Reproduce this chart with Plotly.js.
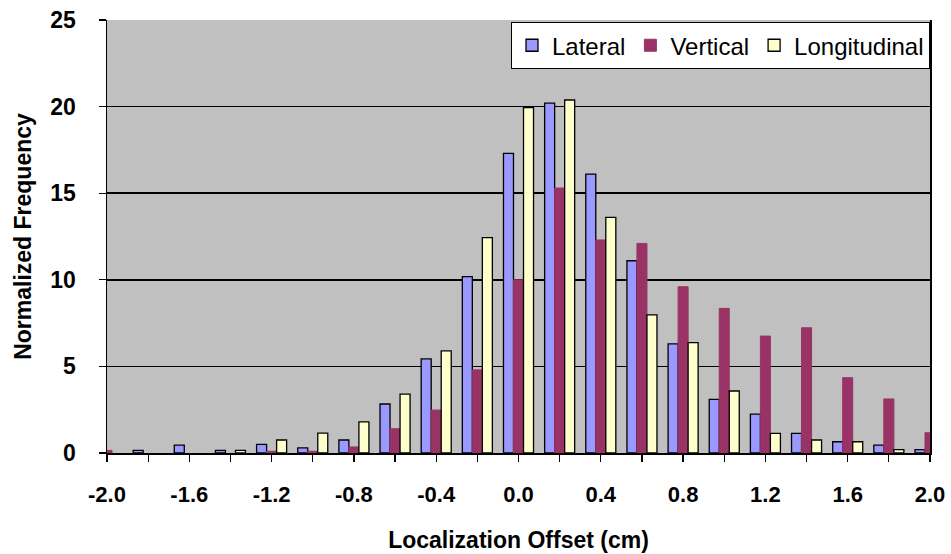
<!DOCTYPE html>
<html>
<head>
<meta charset="utf-8">
<script src="https://cdn.plot.ly/plotly-3.0.1.min.js"></script>
<style>html,body{margin:0;padding:0;background:#fff;}#chart{width:951px;height:554px;}</style>
</head>
<body>
<div id="chart"></div>
<script>
var offsets = [-2.0,-1.8,-1.6,-1.4,-1.2,-1.0,-0.8,-0.6,-0.4,-0.2,0.0,0.2,0.4,0.6,0.8,1.0,1.2,1.4,1.6,1.8,2.0];
var lateral = [null, 0.15, 0.45, 0.15, 0.5, 0.3, 0.75, 2.83, 5.43, 10.18, 17.3, 20.2, 16.1, 11.1, 6.3, 3.1, 2.25, 1.13, 0.65, 0.46, 0.2];
var vertical = [0.15, null, null, null, 0.1, 0.1, 0.35, 1.4, 2.48, 4.8, 10.0, 15.3, 12.3, 12.1, 9.6, 8.35, 6.75, 7.23, 4.35, 3.12, 1.17];
var longitudinal = [null, null, null, 0.15, 0.75, 1.15, 1.8, 3.4, 5.9, 12.43, 19.94, 20.38, 13.6, 7.97, 6.37, 3.58, 1.13, 0.75, 0.65, 0.2, null];
var tickText = ["-2.0","","-1.6","","-1.2","","-0.8","","-0.4","","0.0","","0.4","","0.8","","1.2","","1.6","","2.0"];

var traces = [
  {type:'bar', name:'Lateral', x:offsets, y:lateral, marker:{color:'#9999FF', line:{color:'#000000', width:1.3}}},
  {type:'bar', name:'Vertical', x:offsets, y:vertical, marker:{color:'#993366', line:{color:'#993366', width:1}}},
  {type:'bar', name:'Longitudinal', x:offsets, y:longitudinal, marker:{color:'#FFFFCC', line:{color:'#000000', width:1.3}}}
];

var FONT = 'Arial, Liberation Sans, sans-serif';
var layout = {
  width:951, height:554,
  margin:{l:107, r:21, t:20, b:101},
  paper_bgcolor:'#ffffff',
  plot_bgcolor:'#C0C0C0',
  barmode:'group',
  bargap:0.27,
  bargroupgap:0,
  font:{family:FONT, color:'#000'},
  xaxis:{
    range:[-2.0, 2.0],
    tickvals:offsets,
    ticktext:tickText,
    ticks:'outside', ticklen:7, tickwidth:1.3, tickcolor:'#000',
    ticklabelstandoff:14,
    showgrid:false, zeroline:false,
    showline:true, linecolor:'#000', linewidth:1.5, mirror:false,
    tickfont:{size:22, family:FONT, weight:'bold'},
    title:{text:'<b>Localization Offset (cm)</b>', font:{size:23, family:FONT}, standoff:26}
  },
  yaxis:{
    range:[0, 25],
    dtick:5,
    ticks:'outside', ticklen:7, tickwidth:1.3, tickcolor:'#000',
    ticklabelstandoff:18,
    showgrid:true, gridcolor:'#000', gridwidth:1.5,
    zeroline:false,
    showline:true, linecolor:'#000', linewidth:1.5, mirror:true,
    tickfont:{size:23, family:FONT, weight:'bold'},
    title:{text:'<b>Normalized Frequency</b>', font:{size:23, family:FONT}, standoff:12}
  },
  legend:{
    orientation:'h',
    x:1, xanchor:'right', y:0.995, yanchor:'top',
    bgcolor:'#ffffff', bordercolor:'#000', borderwidth:1,
    font:{size:24, family:FONT},
    itemwidth:30, tracegroupgap:0
  },
  showlegend:true
};

Plotly.newPlot('chart', traces, layout, {displayModeBar:false, staticPlot:true});
</script>
</body>
</html>
